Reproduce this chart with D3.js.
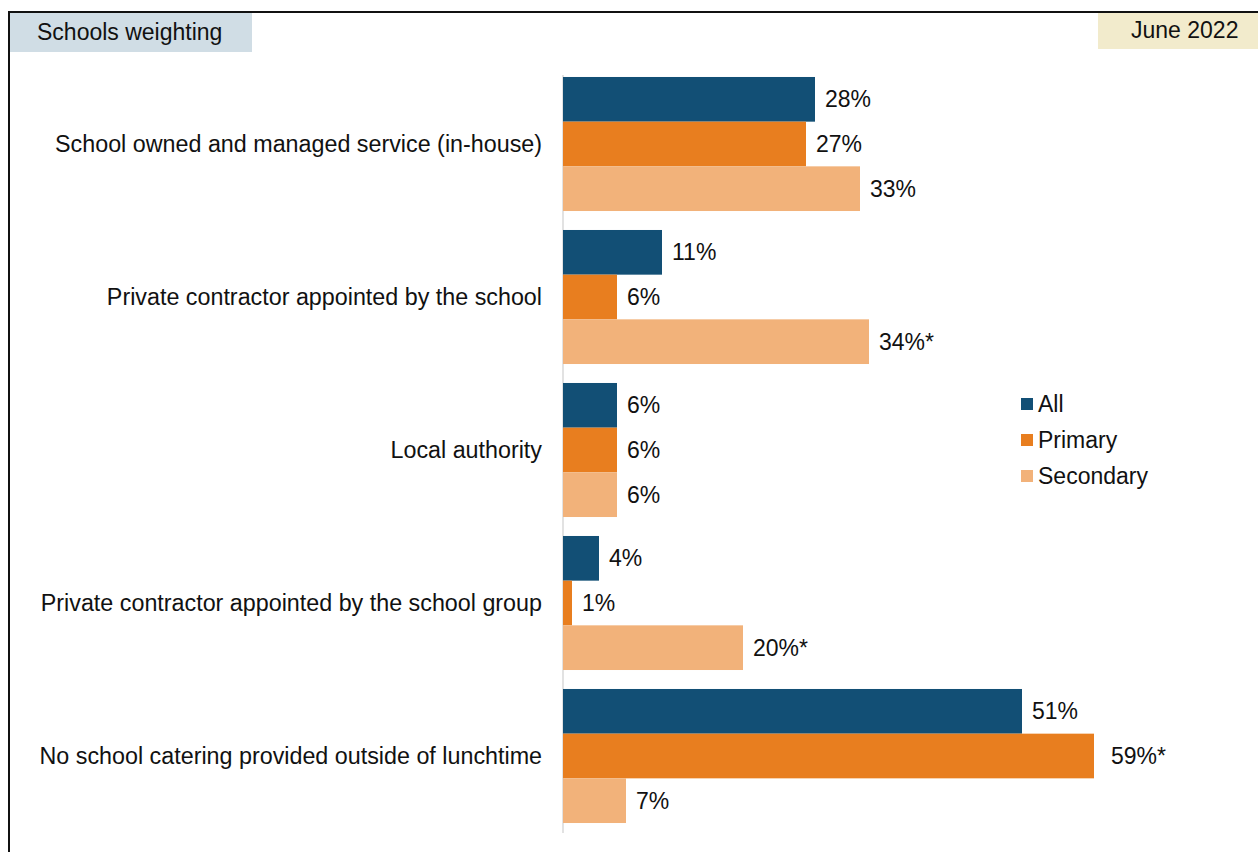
<!DOCTYPE html>
<html>
<head>
<meta charset="utf-8">
<script src="https://cdn.jsdelivr.net/npm/d3@7"></script>
<style>
  html, body { margin: 0; padding: 0; background: #fff; }
  svg { display: block; font-family: "Liberation Sans", Arial, sans-serif; }
</style>
</head>
<body>
<svg id="chart" width="1258" height="852"></svg>
<script>
// Catering provider categories, top to bottom
const categories = [
  "School owned and managed service (in-house)",
  "Private contractor appointed by the school",
  "Local authority",
  "Private contractor appointed by the school group",
  "No school catering provided outside of lunchtime"
];
const seriesNames = ["All", "Primary", "Secondary"];
const allValues = [28, 11, 6, 4, 51];
const primaryValues = [27, 6, 6, 1, 59];
const secondaryValues = [33, 34, 6, 20, 7];
// Asterisk marks a significant difference
const primaryFlags = ["", "", "", "", "*"];
const secondaryFlags = ["", "*", "", "*", ""];
const colors = ["#124f75", "#e87e1f", "#f2b27a"];

const seriesValues = [allValues, primaryValues, secondaryValues];
const seriesFlags = [["", "", "", "", ""], primaryFlags, secondaryFlags];
const fontSize = 23;

const svg = d3.select("#chart");

// Outer frame
svg.append("path")
  .attr("d", "M9,852 V12 H1258")
  .attr("fill", "none").attr("stroke", "#111").attr("stroke-width", 2);

// Header boxes
svg.append("rect").attr("x", 10).attr("y", 13).attr("width", 242).attr("height", 39).attr("fill", "#d0dde5");
svg.append("text").attr("x", 37).attr("y", 40).attr("font-size", fontSize).attr("fill", "#111").text("Schools weighting");
svg.append("rect").attr("x", 1098).attr("y", 13).attr("width", 160).attr("height", 36).attr("fill", "#f2ebcc");
svg.append("text").attr("x", 1131).attr("y", 38).attr("font-size", fontSize).attr("fill", "#111").text("June 2022");

const x0 = 563;
const x = d3.scaleLinear().domain([0, 1]).range([x0, x0 + 9]);
const y = d3.scaleBand().domain(categories).range([67.5, 832.5])
  .paddingInner(0.124).paddingOuter(0.062);
const ySub = d3.scaleBand().domain(seriesNames).range([0, y.bandwidth()]);

// Baseline axis
svg.append("line").attr("x1", x0).attr("x2", x0).attr("y1", 75).attr("y2", 833)
  .attr("stroke", "#d9d9d9").attr("stroke-width", 1.5);

const rows = [];
categories.forEach((c, i) => {
  seriesNames.forEach((s, j) => {
    rows.push({ cat: c, series: s, value: seriesValues[j][i], flag: seriesFlags[j][i], color: colors[j] });
  });
});

svg.append("g").selectAll("rect").data(rows).join("rect")
  .attr("x", x(0))
  .attr("y", d => y(d.cat) + ySub(d.series))
  .attr("width", d => x(d.value) - x(0))
  .attr("height", ySub.bandwidth())
  .attr("fill", d => d.color);

svg.append("g").selectAll("text").data(rows).join("text")
  .attr("x", d => x(d.value) + (d.flag && d.value > 50 ? 17 : 10))
  .attr("y", d => y(d.cat) + ySub(d.series) + ySub.bandwidth() / 2)
  .attr("dy", "0.35em")
  .attr("font-size", fontSize).attr("fill", "#111")
  .text(d => d.value + "%" + d.flag);

// Category labels
svg.append("g").selectAll("text").data(categories).join("text")
  .attr("x", 542)
  .attr("y", d => y(d) + y.bandwidth() / 2)
  .attr("dy", "0.35em")
  .attr("text-anchor", "end")
  .attr("font-size", 23.3).attr("fill", "#111")
  .text(d => d);

// Legend
const legend = svg.append("g").selectAll("g").data(seriesNames).join("g")
  .attr("transform", (d, i) => `translate(1021, ${404 + i * 36})`);
legend.append("rect").attr("x", 0).attr("y", -6).attr("width", 12).attr("height", 12)
  .attr("fill", (d, i) => colors[i]);
legend.append("text").attr("x", 17).attr("dy", "0.35em").attr("font-size", fontSize).attr("fill", "#111")
  .text(d => d);
</script>
</body>
</html>
